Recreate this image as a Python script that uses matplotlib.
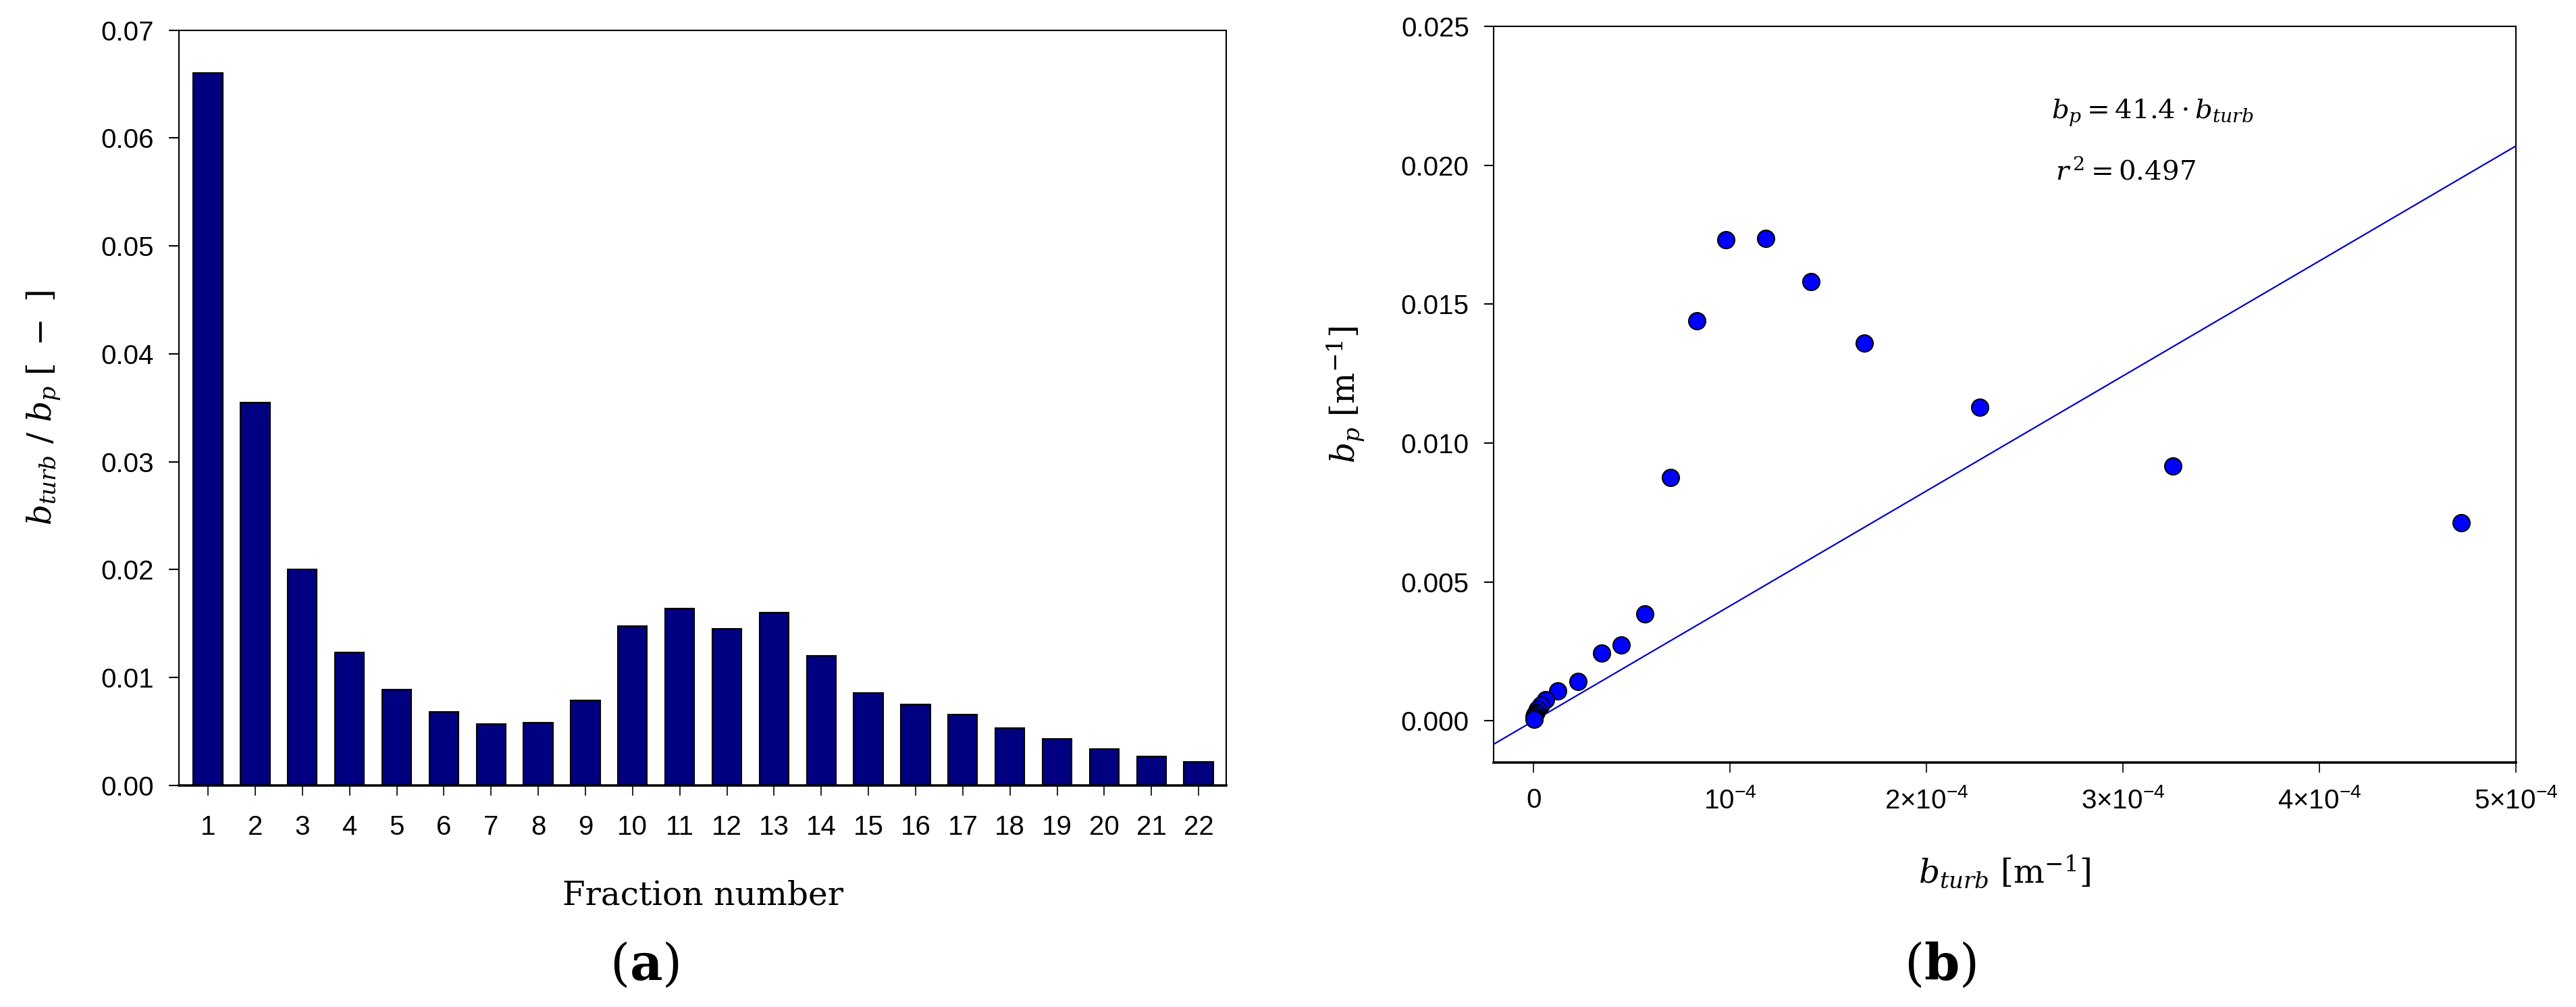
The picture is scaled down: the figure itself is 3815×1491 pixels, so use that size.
import numpy as np
import matplotlib
matplotlib.use("Agg")
import matplotlib.pyplot as plt

plt.rcParams['mathtext.fontset'] = 'custom'
plt.rcParams['mathtext.rm'] = 'DejaVu Serif'
plt.rcParams['mathtext.it'] = 'DejaVu Serif:italic'
plt.rcParams['mathtext.bf'] = 'DejaVu Serif:bold'
plt.rcParams['mathtext.sf'] = 'Liberation Sans'
plt.rcParams['font.family'] = ['Liberation Sans', 'DejaVu Sans']

# (a) ratio b_turb / b_p per fraction
fractions = np.arange(1, 23)
ratio = [0.0660, 0.0355, 0.0200, 0.0123, 0.0089, 0.0068, 0.0057, 0.0058,
         0.0079, 0.0148, 0.0164, 0.0145, 0.0160, 0.0120, 0.0086, 0.0075,
         0.0066, 0.0053, 0.0043, 0.0034, 0.0027, 0.0022]

# (b) b_turb vs b_p
b_turb = [4.72e-4, 3.255e-4, 2.27e-4, 1.682e-4, 1.413e-4, 1.18e-4, 0.978e-4,
          0.832e-4, 0.695e-4, 0.567e-4, 0.446e-4, 0.347e-4, 0.225e-4, 0.123e-4,
          0.060e-4, 0.037e-4, 0.020e-4, 0.012e-4, 0.007e-4, 0.004e-4,
          0.002e-4, 0.001e-4]
b_p = [0.00714, 0.00917, 0.01128, 0.01360, 0.01582, 0.01737, 0.01733,
       0.01441, 0.00876, 0.00385, 0.00273, 0.00243, 0.00142, 0.00107,
       0.00077, 0.00057, 0.00041, 0.00030, 0.00022, 0.00015, 0.00009, 0.00005]
slope = 41.4
r2 = 0.497

xticks_b = [0, 1e-4, 2e-4, 3e-4, 4e-4, 5e-4]
xticklabels_b = ['0', r'$\mathsf{10^{-4}}$', r'$\mathsf{2{\times}10^{-4}}$',
                 r'$\mathsf{3{\times}10^{-4}}$', r'$\mathsf{4{\times}10^{-4}}$',
                 r'$\mathsf{5{\times}10^{-4}}$']

fig = plt.figure(figsize=(38.15, 14.91), dpi=100)

tick_fs = 29
label_fs = 35

# ---- panel (a)
ax1 = fig.add_axes([0.0695, 0.2200, 0.4066, 0.7501])
ax1.bar(fractions, ratio, width=0.62, color='#000080', edgecolor='black', linewidth=1.5)
ax1.set_xlim(0.385, 22.59)
ax1.set_ylim(0, 0.07)
ax1.set_xticks(fractions)
ax1.set_yticks(np.arange(0, 0.071, 0.01))
ax1.set_yticklabels(['%.2f' % v for v in np.arange(0, 0.071, 0.01)])
ax1.tick_params(axis='y', direction='out', length=11, width=1.5, pad=16, labelsize=tick_fs)
ax1.tick_params(axis='x', direction='out', length=11, width=1.2, pad=20, labelsize=tick_fs)
for s in ax1.spines.values():
    s.set_linewidth(1.5)
ax1.spines['bottom'].set_linewidth(2.6)
ax1.text(0.5, -0.158, 'Fraction number', transform=ax1.transAxes, ha='center',
         va='baseline', fontsize=label_fs, family='DejaVu Serif')
ax1.text(-0.129, 0.5, r'$b_{turb}\ /\ b_p\ [\ -\ ]$', transform=ax1.transAxes,
         rotation=90, ha='center', va='center', fontsize=label_fs)

# ---- panel (b)
ax2 = fig.add_axes([0.5798, 0.2428, 0.3969, 0.7309])
ax2.set_xlim(-2.04e-5, 5e-4)
ax2.set_ylim(-0.0015, 0.025)
xl = np.array(ax2.get_xlim())
ax2.plot(xl, slope * xl, color='#0000cc', linewidth=1.6, zorder=2)
ax2.scatter(b_turb, b_p, s=18 ** 2, facecolor='#0000ff', edgecolor='black',
            linewidth=1.5, zorder=3)
ax2.set_xticks(xticks_b)
ax2.set_xticklabels(xticklabels_b)
yt = np.arange(0, 0.0251, 0.005)
ax2.set_yticks(yt)
ax2.set_yticklabels(['%.3f' % v for v in yt])
ax2.tick_params(axis='y', direction='out', length=10, width=1.5, pad=16, labelsize=tick_fs)
ax2.tick_params(axis='x', direction='out', length=11, width=1.2, pad=16, labelsize=tick_fs)
for s in ax2.spines.values():
    s.set_linewidth(1.5)
ax2.spines['bottom'].set_linewidth(2.6)
ax2.text(0.5, -0.164, r'$b_{turb}\ [\mathrm{m}^{-1}]$', transform=ax2.transAxes,
         ha='center', va='baseline', fontsize=label_fs)
ax2.text(-0.144, 0.5, r'$b_p\ [\mathrm{m}^{-1}]$', transform=ax2.transAxes,
         rotation=90, ha='center', va='center', fontsize=label_fs)
ax2.text(2.634e-4, 0.02168, r'$b_p = %.1f \cdot b_{turb}$' % slope,
         va='baseline', ha='left', fontsize=29)
ax2.text(2.655e-4, 0.0195, r'$r^{\,2} = %.3f$' % r2,
         va='baseline', ha='left', fontsize=29)

fig.text(0.2503, 0.0409, r'$(\mathbf{a})$', ha='center', va='center', fontsize=54)
fig.text(0.7533, 0.0409, r'$(\mathbf{b})$', ha='center', va='center', fontsize=54)

fig.savefig('out.png', dpi=100)
